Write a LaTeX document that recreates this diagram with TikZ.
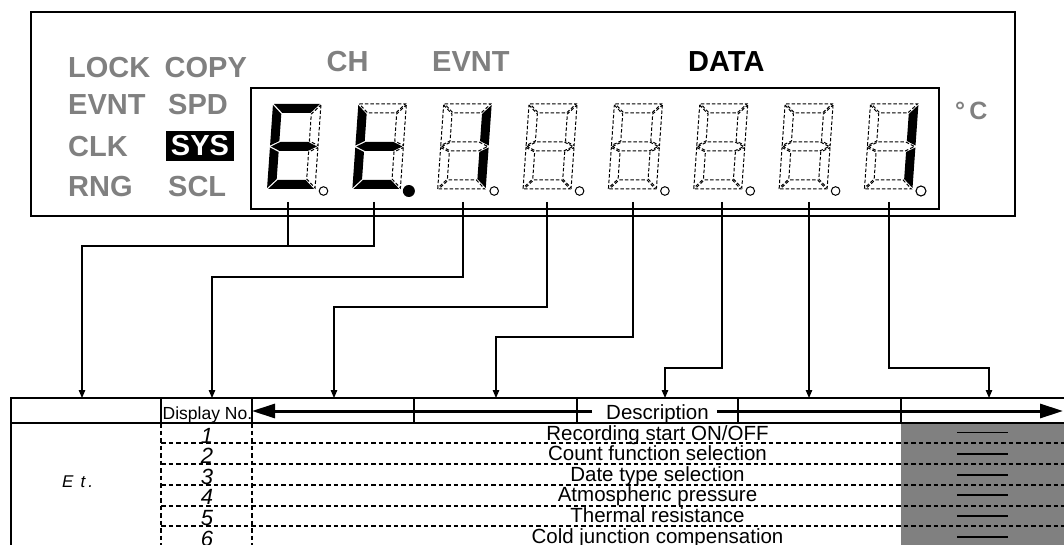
\documentclass[tikz,border=0pt]{standalone}
\usepackage{fontspec}
\setmainfont{Liberation Sans}
\usetikzlibrary{arrows.meta}
\newcommand\segdigit[3]{%
\begin{scope}[shift={(#1,189)}, y=1pt, xslant=0.0706,
  segA/.style={offseg},segB/.style={offseg},segC/.style={offseg},segD/.style={offseg},
  segE/.style={offseg},segF/.style={offseg},segG/.style={offseg}, #2]
 \path[segA] (1,85) -- (47,85) -- (38,76) -- (10,76) -- cycle;
 \path[segB] (48,84) -- (48,43.5) -- (39,48) -- (39,75) -- cycle;
 \path[segC] (48,41.5) -- (48,1) -- (39,10) -- (39,37) -- cycle;
 \path[segD] (1,0) -- (47,0) -- (38,9) -- (10,9) -- cycle;
 \path[segE] (0,41.5) -- (9,37) -- (9,10) -- (0,1) -- cycle;
 \path[segF] (0,84) -- (9,75) -- (9,48) -- (0,43.5) -- cycle;
 \path[segG] (1,42.5) -- (10,47) -- (38,47) -- (47,42.5) -- (38,38) -- (10,38) -- cycle;
\end{scope}
\path[#3] (#1+56.5,191) circle;
}
\begin{document}
\begin{tikzpicture}[x=1pt,y=-1pt,
  lab/.style={font=\fontsize{29}{29}\selectfont\bfseries, text=gray, inner sep=0pt, anchor=base west},
  sysbox/.style={font=\fontsize{29}{29}\selectfont\bfseries, fill=black, text=white, inner sep=0pt,
     minimum width=68pt, minimum height=30pt},
  frame/.style={line width=2.4pt},
  offseg/.style={draw=black, line width=1pt, dash pattern=on 3.5pt off 2pt},
  onseg/.style={fill=black},
  lit/.style={seg#1/.style={onseg}},
  dpo/.style={draw=black, line width=1pt, radius=4.3pt},
  dpbig/.style={draw=black, line width=1.1pt, radius=5pt},
  dpf/.style={fill=black, radius=6pt},
  conn/.style={line width=1.1pt, -{Triangle[length=8pt,width=6.5pt]}},
  connplain/.style={line width=1.1pt},
  tline/.style={line width=1.2pt},
  tdash/.style={line width=1.1pt, dash pattern=on 4.5pt off 3pt},
  harrow/.style={line width=3pt, -{Triangle[length=23pt,width=14pt]}},
  desc/.style={font=\fontsize{20.5}{20.5}\selectfont, inner sep=0pt, anchor=base},
  dno/.style={font=\fontsize{17.5}{17.5}\selectfont, inner sep=0pt, anchor=base west},
  num/.style={font=\fontsize{22}{22}\selectfont\itshape, inner sep=0pt, anchor=base},
  bar/.style={line width=1.2pt},
]
\fill[white] (0,0) rectangle (1064,545);
\useasboundingbox (0,0) rectangle (1064,545);

% panel frames
\draw[frame] (31,12) rectangle (1015,216);
\draw[frame] (251,88) rectangle (939,209);

% seven-segment digits
\segdigit{267}{lit/.list={A,D,E,F,G}}{dpo}
\segdigit{352.35}{lit/.list={D,E,F,G}}{dpf}
\segdigit{437.7}{lit/.list={B,C}}{dpo}
\segdigit{523.05}{}{dpo}
\segdigit{608.4}{}{dpo}
\segdigit{693.75}{}{dpo}
\segdigit{779.1}{}{dpo}
\segdigit{864.45}{lit/.list={B,C}}{dpbig}

% labels
\node[lab] (lock) at (68,78) {LOCK};
\node[lab] (copy) at (164.5,78) {COPY};
\node[lab] (evnt1) at (68,115) {EVNT};
\node[lab] (spd) at (168,115) {SPD};
\node[lab] (clk) at (68,157) {CLK};
\node[sysbox] (sys) at (200,146) {SYS};
\node[lab] (rng) at (68,197) {RNG};
\node[lab] (scl) at (168,197) {SCL};
\node[lab] (ch) at (326.5,72) {CH};
\node[lab] (evnt2) at (432,72) {EVNT};
\node[lab, text=black] (data) at (688,72) {DATA};
\node[lab, font=\fontsize{25}{25}\selectfont\bfseries] (degc) at (955,120) {°\,C};

% connector anchors
\coordinate (d1) at (288,202);
\coordinate (d2) at (374,202);
\coordinate (d3) at (463,202);
\coordinate (d4) at (547,202);
\coordinate (d5) at (633,202);
\coordinate (d6) at (722,202);
\coordinate (d7) at (809,202);
\coordinate (d8) at (889,202);
\coordinate (j1) at (82,246);
\coordinate (j2) at (212,277);
\coordinate (j3) at (334,307);
\coordinate (j4) at (496,337);
\coordinate (j5) at (665,368);
\coordinate (j7) at (989,368);
\coordinate (t1) at (82,398);
\coordinate (t2) at (212,398);
\coordinate (t3) at (334,398);
\coordinate (t4) at (496,398);
\coordinate (t5) at (665,398);
\coordinate (t6) at (809,398);
\coordinate (t7) at (989,398);

\draw[connplain] (d1) -- (d1 |- j1);
\draw[conn] (d2) |- (j1) -- (t1);
\draw[conn] (d3) |- (j2) -- (t2);
\draw[conn] (d4) |- (j3) -- (t3);
\draw[conn] (d5) |- (j4) -- (t4);
\draw[conn] (d6) |- (j5) -- (t5);
\draw[conn] (d7) -- (t6);
\draw[conn] (d8) |- (j7) -- (t7);

% table
\fill[gray] (901,423) rectangle (1064,545);
\draw[tline] (1064,398) -- (11,398) -- (11,545);
\draw[tline] (11,423) -- (1064,423);
\foreach \x in {161,252,414,577,738,901} \draw[tline] (\x,398) -- (\x,423);
\foreach \x in {161,252} \draw[tdash] (\x,423) -- (\x,545);
\foreach \y in {443,464,485,506,526} \draw[tdash] (161,\y) -- (1064,\y);

\node[dno] (dispno) at (162.5,419) {Display No.};
\node[desc] (dsc) at (657.5,419) {Description};
\coordinate (hl) at (252,411);
\coordinate (hr) at (1063,411);
\draw[harrow] ([xshift=-14pt]dsc.west |- hl) -- (hl);
\draw[harrow] ([xshift=8pt]dsc.east |- hr) -- (hr);

% first column
\node[font=\fontsize{17}{17}\selectfont\itshape, inner sep=0pt, anchor=base west] (et) at (62,487) {E\hspace{7pt}t\hspace{3pt}.};

% rows
\node[num] (n1) at (207,443) {1};
\node[num] (n2) at (207,463.6) {2};
\node[num] (n3) at (207,484.2) {3};
\node[num] (n4) at (207,504.8) {4};
\node[num] (n5) at (207,525.4) {5};
\node[num] (n6) at (207,546) {6};

\node[desc] (r1) at (657.5,440) {Recording start ON/OFF};
\node[desc] (r2) at (657.5,460.6) {Count function selection};
\node[desc] (r3) at (657.5,481.2) {Date type selection};
\node[desc] (r4) at (657.5,501.8) {Atmospheric pressure};
\node[desc] (r5) at (657.5,522.4) {Thermal resistance};
\node[desc] (r6) at (657.5,543) {Cold junction compensation};

\foreach \y in {432.7,454,475,495,516,537} \draw[bar] (957,\y) -- (1008,\y);
\end{tikzpicture}
\end{document}
